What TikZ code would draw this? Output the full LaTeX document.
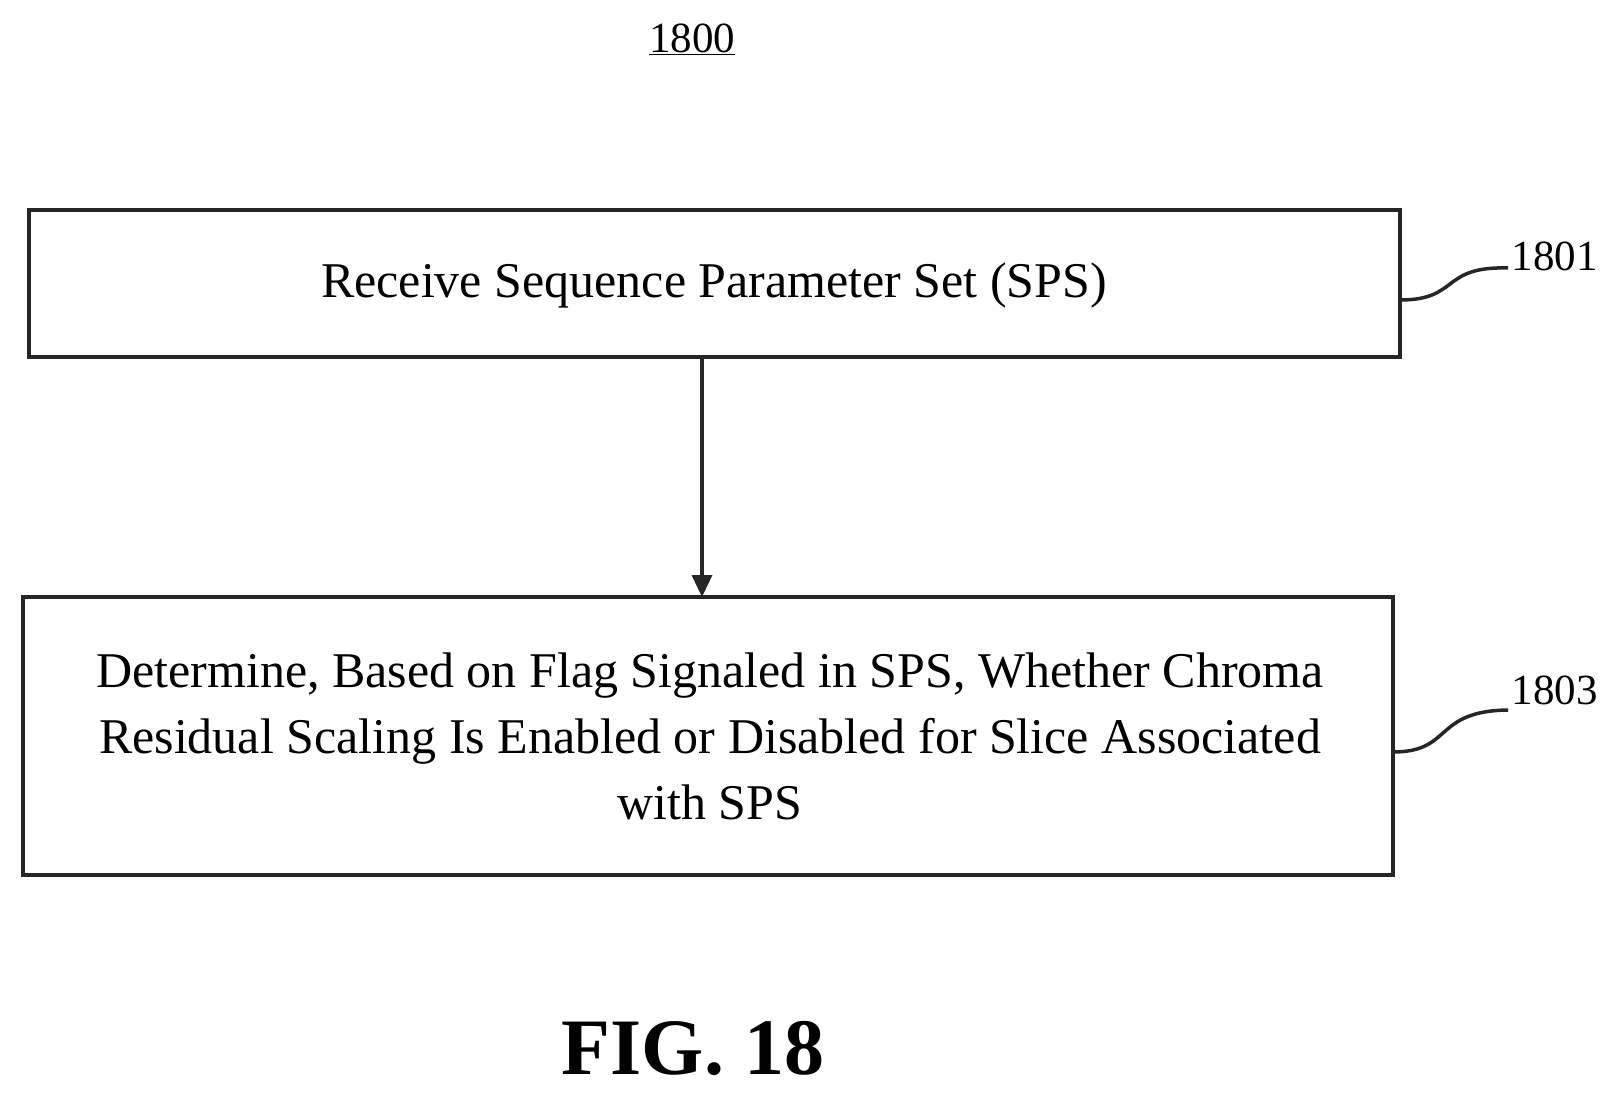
\documentclass[tikz,border=0pt]{standalone}
\usepackage{fontspec}
\setmainfont{Liberation Serif}
\usetikzlibrary{arrows.meta}
\begin{document}
\begin{tikzpicture}[x=1pt,y=-1pt,
  box/.style={draw=black!85,line width=3.5pt},
  txt/.style={font=\fontsize{50}{66}\selectfont,align=center},
  lab/.style={font=\fontsize{43}{50}\selectfont},
  lead/.style={draw=black!85,line width=3.5pt}]
\useasboundingbox (0,0) rectangle (1620,1094);
\node[lab] (t) at (692,39) {\underline{1800}};
\draw[box] (29,210) rectangle (1400,357);
\node[txt] (a) at (714,285) {Receive Sequence Parameter Set (SPS)};
\coordinate (a1) at (702,357);
\draw[box] (23,597) rectangle (1393,875);
\node[txt] (b) at (710,736) {Determine, Based on Flag Signaled in SPS, Whether Chroma\\Residual Scaling Is Enabled or Disabled for Slice Associated\\with SPS};
\coordinate (b1) at (702,597);
\draw[lead,-{Triangle[length=22pt,width=20pt]}] (a1) -- (b1);
\node[lab,anchor=west] (l1) at (1508,256) {1801};
\node[lab,anchor=west] (l3) at (1508,690) {1803};
\coordinate (p1) at (1400,300);
\coordinate (p3) at (1393,752);
\draw[lead] (p1) .. controls (1460,300) and (1440,266) .. ([yshift=-12pt]l1.west);
\draw[lead] (p3) .. controls (1453,752) and (1433,711) .. ([yshift=-20pt]l3.west);
\node[font=\bfseries\fontsize{80}{90}\selectfont] (f) at (693,1048) {FIG. 18};
\end{tikzpicture}
\end{document}
